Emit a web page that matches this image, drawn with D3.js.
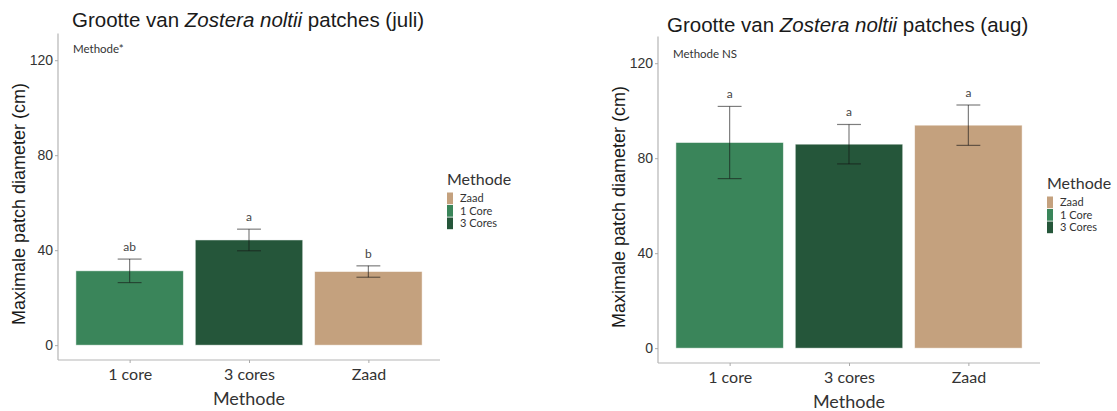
<!DOCTYPE html>
<html>
<head>
<meta charset="utf-8">
<script src="https://cdn.jsdelivr.net/npm/d3@7"></script>
<style>
  html, body { margin: 0; padding: 0; background: #fff; }
  svg { display: block; }
</style>
</head>
<body>
<svg id="chart" width="1117" height="411"></svg>
<script>
// Categories on the x axis and legend entries
const categories = ["1 core", "3 cores", "Zaad"];
const legendLabels = ["Zaad", "1 Core", "3 Cores"];
const legendKeys = ["Zaad", "1 core", "3 cores"];

// July: mean maximum patch diameter (cm), error half-width, group letters
const julMean = [31.3, 44.3, 31.0];
const julErr = [4.95, 4.55, 2.4];
const julLetters = ["ab", "a", "b"];

// August
const augMean = [86.6, 85.9, 93.9];
const augErr = [15.2, 8.3, 8.5];
const augLetters = ["a", "a", "a"];

const yTicks = [0, 40, 80, 120];
const yLimits = [0, 125];

const colors = { "1 core": "#3a855a", "3 cores": "#25563a", "Zaad": "#c4a17e" };

const svg = d3.select("#chart");

function panel(opts) {
  const g = svg.append("g");
  // ggplot-style 5% expansion around the limits
  const span = yLimits[1] - yLimits[0];
  const y = d3.scaleLinear()
    .domain([yLimits[0] - 0.05 * span, yLimits[1] + 0.05 * span])
    .range([opts.bottom, opts.top]);
  const x = d3.scalePoint().domain(categories).range([opts.left, opts.right]).padding(0.6);
  const bw = x.step() * 0.9;

  // Title with italic species name
  const t = g.append("text")
    .attr("x", opts.titleX).attr("y", opts.titleY)
    .attr("font-family", "Liberation Sans, Arial, sans-serif")
    .attr("font-size", 20.5).attr("fill", "#1a1a1a");
  t.append("tspan").text("Grootte van ");
  t.append("tspan").attr("font-style", "italic").text("Zostera noltii");
  t.append("tspan").text(" patches (" + opts.month + ")");

  // Bars
  g.selectAll("rect.bar").data(categories).join("rect")
    .attr("class", "bar")
    .attr("x", d => x(d) - bw / 2)
    .attr("width", bw)
    .attr("y", (d, i) => y(opts.mean[i]))
    .attr("height", (d, i) => y(0) - y(opts.mean[i]))
    .attr("fill", d => colors[d])
    .attr("stroke", "rgba(255,255,255,0.6)")
    .attr("stroke-width", 0.8);

  // Error bars
  const capHalf = x.step() * 0.1;
  const eb = g.selectAll("g.err").data(categories).join("g").attr("class", "err")
    .attr("stroke", "rgba(20,20,20,0.55)").attr("stroke-width", 1.2);
  eb.append("line")
    .attr("x1", d => x(d)).attr("x2", d => x(d))
    .attr("y1", (d, i) => y(opts.mean[i] + opts.err[i]))
    .attr("y2", (d, i) => y(opts.mean[i] - opts.err[i]));
  eb.append("line")
    .attr("x1", d => x(d) - capHalf).attr("x2", d => x(d) + capHalf)
    .attr("y1", (d, i) => y(opts.mean[i] + opts.err[i]))
    .attr("y2", (d, i) => y(opts.mean[i] + opts.err[i]));
  eb.append("line")
    .attr("x1", d => x(d) - capHalf).attr("x2", d => x(d) + capHalf)
    .attr("y1", (d, i) => y(opts.mean[i] - opts.err[i]))
    .attr("y2", (d, i) => y(opts.mean[i] - opts.err[i]));

  // Group letters
  g.selectAll("text.letter").data(categories).join("text")
    .attr("class", "letter")
    .attr("x", d => x(d))
    .attr("y", (d, i) => y(opts.mean[i] + opts.err[i]) - 8)
    .attr("text-anchor", "middle")
    .attr("font-family", "Lato, sans-serif").attr("font-size", 12)
    .attr("fill", "#444")
    .text((d, i) => opts.letters[i]);

  // Y axis
  const yAxis = g.append("g")
    .attr("transform", `translate(${opts.left},0)`)
    .call(d3.axisLeft(y).tickValues(yTicks).tickSize(3).tickPadding(2));
  yAxis.select(".domain").attr("stroke", "#b5b5b5").attr("stroke-width", 1.2)
    .attr("d", `M0,${opts.bottom}V${opts.top}`);
  yAxis.selectAll(".tick line").attr("stroke", "#aaa");
  yAxis.selectAll(".tick text")
    .attr("font-family", "Liberation Sans, Arial, sans-serif")
    .attr("font-size", 14).attr("fill", "#333");

  // X axis
  const xAxis = g.append("g")
    .attr("transform", `translate(0,${opts.bottom})`)
    .call(d3.axisBottom(x).tickSize(3).tickPadding(6));
  xAxis.select(".domain").attr("stroke", "#b5b5b5").attr("stroke-width", 1.2)
    .attr("d", `M${opts.left},0H${opts.right}`);
  xAxis.selectAll(".tick line").attr("stroke", "#aaa");
  xAxis.selectAll(".tick text")
    .attr("font-family", "Lato, sans-serif")
    .attr("font-size", 16).attr("fill", "#333");

  // Axis titles
  g.append("text")
    .attr("x", (opts.left + opts.right) / 2).attr("y", opts.bottom + 45)
    .attr("text-anchor", "middle")
    .attr("font-family", "Lato, sans-serif").attr("font-size", 18).attr("fill", "#333")
    .text("Methode");
  g.append("text")
    .attr("transform", `translate(${opts.left - 33},${opts.yTitleY}) rotate(-90)`)
    .attr("text-anchor", "middle")
    .attr("font-family", "Liberation Sans, Arial, sans-serif").attr("font-size", 18).attr("fill", "#1a1a1a")
    .text("Maximale patch diameter (cm)");

  // Significance note
  g.append("text")
    .attr("x", opts.left + 15).attr("y", opts.noteY)
    .attr("font-family", "Lato, sans-serif").attr("font-size", 11.5).attr("fill", "#333")
    .text(opts.note);

  // Legend
  const lg = g.append("g").attr("transform", `translate(${opts.legendX},${opts.legendY})`);
  lg.append("text").attr("x", 0).attr("y", 0)
    .attr("font-family", "Lato, sans-serif").attr("font-size", 16).attr("fill", "#333")
    .text("Methode");
  const rowH = 12.5;
  lg.selectAll("rect").data(legendKeys).join("rect")
    .attr("x", 0).attr("y", (d, i) => 8 + i * rowH)
    .attr("width", 6).attr("height", rowH - 0.8)
    .attr("fill", d => colors[d]);
  lg.selectAll("text.lab").data(legendLabels).join("text")
    .attr("class", "lab")
    .attr("x", 13).attr("y", (d, i) => 8 + i * rowH + 9.5)
    .attr("font-family", "Lato, sans-serif").attr("font-size", 11).attr("fill", "#333")
    .text(d => d);
}

panel({
  month: "juli", mean: julMean, err: julErr, letters: julLetters,
  left: 58, right: 440, top: 33.5, bottom: 360,
  titleX: 72, titleY: 27, yTitleY: 204, noteY: 53,
  note: "Methode*", legendX: 447, legendY: 184.5
});

panel({
  month: "aug", mean: augMean, err: augErr, letters: augLetters,
  left: 658, right: 1040, top: 36.5, bottom: 363,
  titleX: 667, titleY: 31.5, yTitleY: 207, noteY: 58,
  note: "Methode NS", legendX: 1047, legendY: 188.5
});
</script>
</body>
</html>
